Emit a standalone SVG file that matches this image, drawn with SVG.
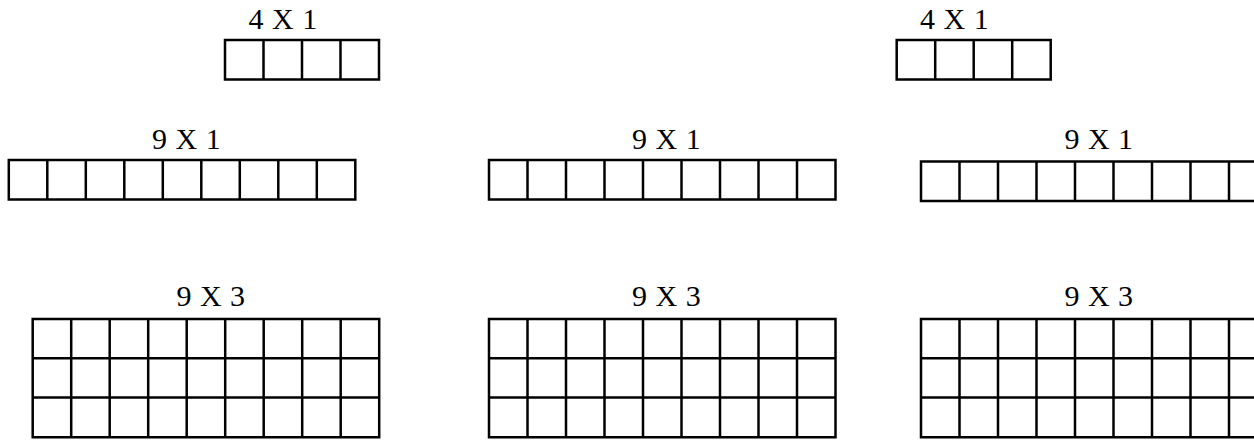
<svg xmlns="http://www.w3.org/2000/svg" xmlns:xlink="http://www.w3.org/1999/xlink" width="1254" height="441" viewBox="0 0 1254 441">
<style>
.grid{fill:none;stroke:#000;stroke-width:2.5;stroke-linecap:square}
.lbl{font-family:"Liberation Serif","Times New Roman",serif;font-size:30px;word-spacing:1px;fill:#000}
</style>
<defs>
<path id="g4x1" class="grid" d="M0,0H154V39.5H0Z M38.5,0V39.5 M77,0V39.5 M115.5,0V39.5"/>
<path id="g9x1" class="grid" d="M0,0H346.5V39.5H0Z M38.5,0V39.5 M77,0V39.5 M115.5,0V39.5 M154,0V39.5 M192.5,0V39.5 M231,0V39.5 M269.5,0V39.5 M308,0V39.5"/>
<path id="g9x3" class="grid" d="M0,0H346.5V118.3H0Z M0,39.2H346.5 M0,78.6H346.5 M38.5,0V118.3 M77,0V118.3 M115.5,0V118.3 M154,0V118.3 M192.5,0V118.3 M231,0V118.3 M269.5,0V118.3 M308,0V118.3"/>
</defs>
<rect width="1254" height="441" fill="#fff"/>
<g id="left-4x1">
<text class="lbl" x="248.5" y="29.3">4 X 1</text>
<use xlink:href="#g4x1" href="#g4x1" x="225" y="40"/>
</g>
<g id="right-4x1">
<text class="lbl" x="920" y="29.3">4 X 1</text>
<use xlink:href="#g4x1" href="#g4x1" x="896.7" y="40"/>
</g>
<g id="left-9x1">
<text class="lbl" x="152" y="149.3">9 X 1</text>
<use xlink:href="#g9x1" href="#g9x1" x="8.8" y="160"/>
</g>
<g id="mid-9x1">
<text class="lbl" x="632" y="149.3">9 X 1</text>
<use xlink:href="#g9x1" href="#g9x1" x="489" y="160"/>
</g>
<g id="right-9x1">
<text class="lbl" x="1064.4" y="149.3">9 X 1</text>
<use xlink:href="#g9x1" href="#g9x1" x="921" y="161.5"/>
</g>
<g id="left-9x3">
<text class="lbl" x="176.4" y="305.7">9 X 3</text>
<use xlink:href="#g9x3" href="#g9x3" x="32.7" y="319"/>
</g>
<g id="mid-9x3">
<text class="lbl" x="632" y="305.7">9 X 3</text>
<use xlink:href="#g9x3" href="#g9x3" x="489" y="319"/>
</g>
<g id="right-9x3">
<text class="lbl" x="1064.4" y="305.7">9 X 3</text>
<use xlink:href="#g9x3" href="#g9x3" x="921" y="319"/>
</g>
<g id="connectors"/>
</svg>
